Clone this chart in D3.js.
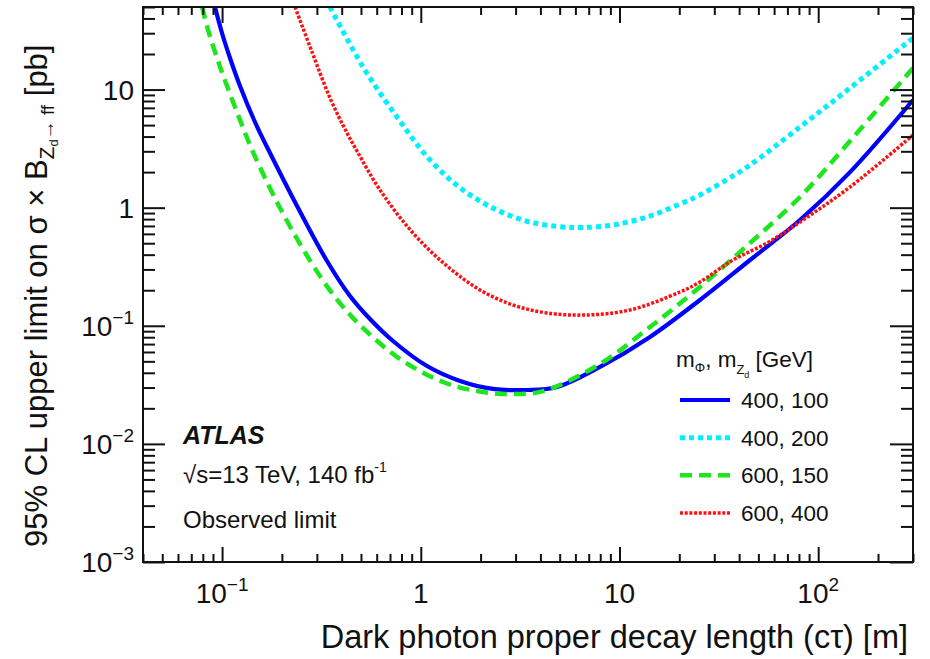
<!DOCTYPE html>
<html>
<head>
<meta charset="utf-8">
<script src="https://cdn.jsdelivr.net/npm/d3@7"></script>
<style>
  body { margin: 0; background: #fff; }
  svg { display: block; font-family: "Liberation Sans", Arial, Helvetica, sans-serif; }
</style>
</head>
<body>
<svg id="chart" width="930" height="659"></svg>
<script>
// Observed 95% CL limits vs dark photon proper decay length c*tau [m]; limits in pb
const ctau_400_100 = [0.0921, 0.0999, 0.1096, 0.1231, 0.1464, 0.1743, 0.2384, 0.3373, 0.4403, 0.5552, 0.7247, 1.075, 1.576, 2.31, 3.42, 4.85, 7.98, 14.24, 25.4, 45.4, 81.0, 144.6, 300];
const limit_400_100 = [50, 30.12, 18.5, 10.72, 5.313, 2.903, 1.033, 0.3535, 0.1787, 0.1141, 0.0743, 0.0456, 0.0341, 0.0292, 0.0286, 0.0303, 0.0448, 0.0804, 0.1653, 0.3605, 0.786, 2.00, 8.16];

const ctau_400_200 = [0.3493, 0.512, 0.759, 1.113, 1.631, 2.419, 3.544, 5.197, 6.553, 9.278, 13.76, 20.16, 25.4, 37.26, 45.4, 81.0, 144.6, 300];
const limit_400_200 = [50, 15.52, 5.857, 2.532, 1.411, 0.9555, 0.7562, 0.6859, 0.6793, 0.7133, 0.8337, 1.074, 1.28, 1.854, 2.297, 4.819, 10.31, 27.32];

const ctau_600_150 = [0.0793, 0.0859, 0.0943, 0.1059, 0.1231, 0.1431, 0.1934, 0.2739, 0.3701, 0.4945, 0.7858, 1.294, 1.919, 2.812, 4.122, 7.98, 14.24, 25.4, 45.4, 81.0, 144.6, 300];
const limit_600_150 = [50, 30.12, 18.5, 10.72, 5.524, 2.96, 1.033, 0.3676, 0.1753, 0.1015, 0.0523, 0.0334, 0.028, 0.0264, 0.028, 0.0475, 0.0976, 0.213, 0.5022, 1.231, 3.667, 15.22];

const ctau_600_400 = [0.2329, 0.2836, 0.3493, 0.4253, 0.4776, 0.6234, 0.9137, 1.355, 1.987, 2.911, 4.317, 6.864, 11.29, 20.16, 25.4, 37.26, 55.26, 81.0, 144.6, 300];
const limit_600_400 = [50, 20.8, 8.482, 4.287, 3.018, 1.411, 0.6103, 0.3207, 0.2009, 0.15, 0.1283, 0.1234, 0.136, 0.1932, 0.2347, 0.3605, 0.5022, 0.7562, 1.496, 4.123];

const seriesLabels = ["400, 100", "400, 200", "600, 150", "600, 400"];
const seriesColors = ["#0000ff", "#00f0ff", "#1ee61e", "#ff1010"];

const xMajorTicks = [0.1, 1, 10, 100];
const xTickLabels = [["10", "−1"], ["1", null], ["10", null], ["10", "2"]];
const yMajorTicks = [1e-3, 1e-2, 1e-1, 1, 10];
const yTickLabels = [["10", "−3"], ["10", "−2"], ["10", "−1"], ["1", null], ["10", null]];

const series = [
  { label: seriesLabels[0], ctau: ctau_400_100, limit: limit_400_100, color: seriesColors[0], width: 4.2, dash: null },
  { label: seriesLabels[1], ctau: ctau_400_200, limit: limit_400_200, color: seriesColors[1], width: 5,   dash: "5,4" },
  { label: seriesLabels[2], ctau: ctau_600_150, limit: limit_600_150, color: seriesColors[2], width: 4.5, dash: "12,7" },
  { label: seriesLabels[3], ctau: ctau_600_400, limit: limit_600_400, color: seriesColors[3], width: 3.5, dash: "3,1.7" }
];

const svg = d3.select("#chart");
const plot = { left: 143, right: 913, top: 7, bottom: 562 };

const x = d3.scaleLog().domain([0.04, 300]).range([plot.left, plot.right]);
const y = d3.scaleLog().domain([1e-3, 50]).range([plot.bottom, plot.top]);

// minor ticks: 2..9 times each power of ten inside the domain
function minorTicks(scale) {
  const [a, b] = scale.domain();
  const out = [];
  for (let e = Math.floor(Math.log10(a)); e <= Math.ceil(Math.log10(b)); e++) {
    for (let k = 2; k <= 9; k++) {
      const v = k * Math.pow(10, e);
      if (v >= a * 0.999 && v <= b * 1.001) out.push(v);
    }
  }
  return out;
}
const xMinor = minorTicks(x);
const yMinor = minorTicks(y);

// clip curves to the frame
svg.append("defs").append("clipPath").attr("id", "plotClip")
  .append("rect")
  .attr("x", plot.left).attr("y", plot.top)
  .attr("width", plot.right - plot.left).attr("height", plot.bottom - plot.top);

// curves
const line = d3.line()
  .x(d => x(d[0]))
  .y(d => y(d[1]))
  .curve(d3.curveCatmullRom.alpha(0.5));

const curves = svg.append("g").attr("clip-path", "url(#plotClip)");
series.forEach(s => {
  const pts = s.ctau.map((c, i) => [c, s.limit[i]]);
  curves.append("path")
    .datum(pts)
    .attr("d", line)
    .attr("fill", "none")
    .attr("stroke", s.color)
    .attr("stroke-width", s.width)
    .attr("stroke-dasharray", s.dash)
    .attr("stroke-linejoin", "round");
});

// inward ticks on all four sides
function tickAxis(gen, tx, ty, values, size) {
  const g = svg.append("g")
    .attr("transform", `translate(${tx},${ty})`)
    .call(gen.tickValues(values).tickSize(size).tickFormat(""));
  g.select(".domain").remove();
  g.selectAll(".tick line").attr("stroke", "#111").attr("stroke-width", 2);
  return g;
}
tickAxis(d3.axisRight(y), plot.left, 0, yMajorTicks, 22);
tickAxis(d3.axisRight(y), plot.left, 0, yMinor, 12);
tickAxis(d3.axisLeft(y), plot.right, 0, yMajorTicks, 23);
tickAxis(d3.axisLeft(y), plot.right, 0, yMinor, 12);
tickAxis(d3.axisTop(x), 0, plot.bottom, xMajorTicks, 15);
tickAxis(d3.axisTop(x), 0, plot.bottom, xMinor, 8);
tickAxis(d3.axisBottom(x), 0, plot.top, xMajorTicks, 16);
tickAxis(d3.axisBottom(x), 0, plot.top, xMinor, 8);

// frame
svg.append("rect")
  .attr("x", plot.left).attr("y", plot.top)
  .attr("width", plot.right - plot.left).attr("height", plot.bottom - plot.top)
  .attr("fill", "none").attr("stroke", "#111").attr("stroke-width", 2);

// tick labels
function powerLabel(sel, base, exp) {
  sel.append("tspan").text(base);
  if (exp) sel.append("tspan").attr("font-size", 19).attr("dy", -12).text(exp);
}
yMajorTicks.forEach((v, i) => {
  const t = svg.append("text")
    .attr("x", 134).attr("y", y(v) + 10)
    .attr("text-anchor", "end")
    .attr("font-size", 28).attr("fill", "#111");
  powerLabel(t, yTickLabels[i][0], yTickLabels[i][1]);
});
xMajorTicks.forEach((v, i) => {
  const t = svg.append("text")
    .attr("x", x(v)).attr("y", 603)
    .attr("text-anchor", "middle")
    .attr("font-size", 28).attr("fill", "#111");
  powerLabel(t, xTickLabels[i][0], xTickLabels[i][1]);
});

// axis titles
svg.append("text")
  .attr("x", 908).attr("y", 648)
  .attr("text-anchor", "end")
  .attr("font-size", 32.5).attr("fill", "#111")
  .text("Dark photon proper decay length (cτ) [m]");

const yTitle = svg.append("text")
  .attr("transform", "translate(47,547) rotate(-90)")
  .attr("text-anchor", "start")
  .attr("font-size", 31).attr("fill", "#111");
yTitle.append("tspan").text("95% CL upper limit on σ × B");
yTitle.append("tspan").attr("font-size", 21).attr("dy", 7).text("Z");
yTitle.append("tspan").attr("font-size", 13).attr("dy", 4).text("d");
yTitle.append("tspan").attr("font-size", 19).attr("dy", -4).text("→ ff");
yTitle.append("tspan").attr("dy", -7).text(" [pb]");

// experiment labels
const info = svg.append("g").attr("fill", "#111");
info.append("text")
  .attr("x", 183).attr("y", 444)
  .attr("font-size", 25).attr("font-weight", "bold").attr("font-style", "italic")
  .text("ATLAS");
const lumi = info.append("text").attr("x", 183).attr("y", 483).attr("font-size", 24);
lumi.append("tspan").text("√s=13 TeV, 140 fb");
lumi.append("tspan").attr("font-size", 14).attr("dy", -11).text("-1");
info.append("text")
  .attr("x", 183).attr("y", 528).attr("font-size", 24)
  .text("Observed limit");

// legend
const legend = svg.append("g").attr("fill", "#111");
const lt = legend.append("text").attr("x", 676).attr("y", 367).attr("font-size", 22.5);
lt.append("tspan").text("m");
lt.append("tspan").attr("font-size", 13).attr("dy", 5).text("Φ");
lt.append("tspan").attr("dy", -5).text(", m");
lt.append("tspan").attr("font-size", 13).attr("dy", 7).text("Z");
lt.append("tspan").attr("font-size", 9).attr("dy", 4).text("d");
lt.append("tspan").attr("dy", -11).text(" [GeV]");

const rowY = d3.scaleLinear().domain([0, 3]).range([400, 513]);
series.forEach((s, i) => {
  const cy = rowY(i);
  legend.append("line")
    .attr("x1", 680).attr("x2", 730).attr("y1", cy).attr("y2", cy)
    .attr("stroke", s.color).attr("stroke-width", s.width)
    .attr("stroke-dasharray", s.dash);
  legend.append("text")
    .attr("x", 741).attr("y", cy + 8)
    .attr("font-size", 22.5)
    .text(s.label);
});
</script>
</body>
</html>
